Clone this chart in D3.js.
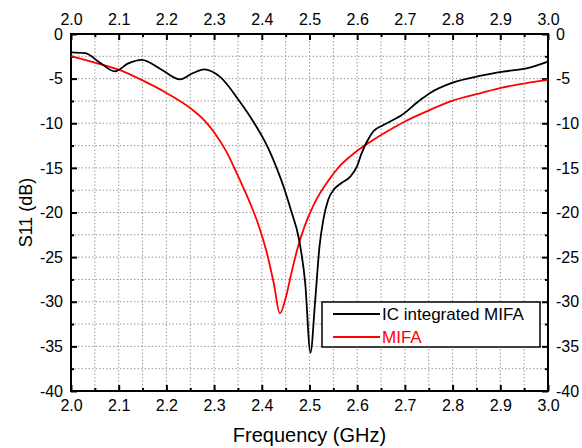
<!DOCTYPE html>
<html>
<head>
<meta charset="utf-8">
<script src="https://cdn.jsdelivr.net/npm/d3@7"></script>
<style>
  body { margin: 0; background: #fff; }
  text { font-family: "Liberation Sans", Arial, sans-serif; }
</style>
</head>
<body>
<svg id="chart" width="582" height="448"></svg>
<script>
  var width = 582, height = 448
  // plot box (window.top is read only, so no "top" here)
  var plotL = 71, plotR = 548, plotT = 34, plotB = 391

  // IC integrated MIFA
  var freqIC = [2.0, 2.03, 2.06, 2.092, 2.12, 2.148, 2.19, 2.228, 2.255, 2.279, 2.312, 2.354, 2.382, 2.403, 2.417, 2.431, 2.445, 2.462, 2.478, 2.491, 2.502, 2.512, 2.521, 2.529, 2.539, 2.553, 2.567, 2.585, 2.599, 2.609, 2.62, 2.634, 2.655, 2.676, 2.69, 2.732, 2.753, 2.80, 2.857, 2.906, 2.955, 3.0]
  var s11IC = [-2.05, -2.15, -3.2, -4.18, -3.3, -2.9, -4.0, -5.08, -4.4, -3.96, -4.78, -7.6, -9.8, -11.7, -13.2, -15.0, -17.0, -19.9, -23.0, -27.9, -35.7, -29.8, -23.8, -20.8, -18.6, -17.3, -16.7, -16.0, -14.9, -13.4, -12.1, -10.9, -10.2, -9.6, -9.2, -7.4, -6.6, -5.45, -4.7, -4.22, -3.85, -3.1]

  // MIFA
  var freqMIFA = [2.0, 2.05, 2.1, 2.15, 2.2, 2.25, 2.28, 2.3, 2.325, 2.35, 2.375, 2.395, 2.41, 2.425, 2.438, 2.45, 2.462, 2.475, 2.49, 2.51, 2.54, 2.565, 2.595, 2.63, 2.665, 2.7, 2.753, 2.8, 2.857, 2.906, 2.95, 3.0]
  var s11MIFA = [-2.47, -3.2, -4.0, -5.2, -6.6, -8.3, -9.7, -11.0, -13.1, -15.9, -18.9, -21.7, -24.4, -27.9, -31.3, -29.6, -26.8, -24.0, -21.5, -19.0, -16.4, -14.7, -13.3, -12.0, -10.85, -9.8, -8.5, -7.47, -6.65, -5.98, -5.55, -5.15]

  var xTicks = [2.0, 2.1, 2.2, 2.3, 2.4, 2.5, 2.6, 2.7, 2.8, 2.9, 3.0]
  var xMinor = [2.05, 2.15, 2.25, 2.35, 2.45, 2.55, 2.65, 2.75, 2.85, 2.95]
  var yTicks = [0, -5, -10, -15, -20, -25, -30, -35, -40]
  var yMinor = [-2.5, -7.5, -12.5, -17.5, -22.5, -27.5, -32.5, -37.5]

  var seriesNames = ["IC integrated MIFA", "MIFA"]
  var seriesColors = ["#000000", "#ff0000"]

  var svg = d3.select("#chart")

  var x = d3.scaleLinear().domain([2, 3]).range([plotL, plotR])
  var y = d3.scaleLinear().domain([-40, 0]).range([plotB, plotT])

  // dotted grid
  var grid = svg.append("g")
  grid.selectAll(".gx")
    .data(xTicks.concat(xMinor).filter(function(d) { return d > 2 && d < 3 }))
    .enter().append("line")
    .attr("x1", function(d) { return x(d) })
    .attr("x2", function(d) { return x(d) })
    .attr("y1", plotT).attr("y2", plotB)
    .attr("stroke", "#9a9a9a").attr("stroke-width", 1)
    .attr("stroke-dasharray", "1.5,2")
  grid.selectAll(".gy")
    .data(yTicks.concat(yMinor).filter(function(d) { return d > -40 && d < 0 }))
    .enter().append("line")
    .attr("y1", function(d) { return y(d) })
    .attr("y2", function(d) { return y(d) })
    .attr("x1", plotL).attr("x2", plotR)
    .attr("stroke", "#9a9a9a").attr("stroke-width", 1)
    .attr("stroke-dasharray", "1.5,2")

  function fmtX(d) { return d.toFixed(1) }
  // plain hyphen, not the unicode minus d3.format gives
  function fmtY(d) { return String(d) }

  function drawAxis(axis, tx, ty) {
    var g = svg.append("g")
      .attr("transform", "translate(" + tx + "," + ty + ")")
      .call(axis)
    g.select(".domain").remove()
    g.selectAll(".tick line").attr("stroke", "#000").attr("stroke-width", 2)
    g.selectAll(".tick text")
      .attr("fill", "#000")
      .style("font-size", "16px")
      .style("font-family", "Liberation Sans, Arial, sans-serif")
    return g
  }

  drawAxis(d3.axisBottom(x).tickValues(xTicks).tickFormat(fmtX).tickSizeInner(-6).tickSizeOuter(0).tickPadding(9), 0, plotB)
  drawAxis(d3.axisBottom(x).tickValues(xMinor).tickFormat("").tickSizeInner(-3).tickSizeOuter(0), 0, plotB)
  drawAxis(d3.axisTop(x).tickValues(xTicks).tickFormat(fmtX).tickSizeInner(-6).tickSizeOuter(0).tickPadding(9), 0, plotT)
  drawAxis(d3.axisTop(x).tickValues(xMinor).tickFormat("").tickSizeInner(-3).tickSizeOuter(0), 0, plotT)
  drawAxis(d3.axisLeft(y).tickValues(yTicks).tickFormat(fmtY).tickSizeInner(-6).tickSizeOuter(0).tickPadding(8), plotL, 0)
  drawAxis(d3.axisLeft(y).tickValues(yMinor).tickFormat("").tickSizeInner(-3).tickSizeOuter(0), plotL, 0)
  drawAxis(d3.axisRight(y).tickValues(yTicks).tickFormat(fmtY).tickSizeInner(-6).tickSizeOuter(0).tickPadding(8), plotR, 0)
  drawAxis(d3.axisRight(y).tickValues(yMinor).tickFormat("").tickSizeInner(-3).tickSizeOuter(0), plotR, 0)

  // frame
  svg.append("rect")
    .attr("x", plotL).attr("y", plotT)
    .attr("width", plotR - plotL).attr("height", plotB - plotT)
    .attr("fill", "none").attr("stroke", "#000").attr("stroke-width", 2)

  var line = d3.line()
    .x(function(d) { return x(d[0]) })
    .y(function(d) { return y(d[1]) })
    .curve(d3.curveMonotoneX)

  svg.append("path")
    .datum(d3.zip(freqMIFA, s11MIFA))
    .attr("d", line)
    .attr("fill", "none").attr("stroke", seriesColors[1]).attr("stroke-width", 1.8)

  svg.append("path")
    .datum(d3.zip(freqIC, s11IC))
    .attr("d", line)
    .attr("fill", "none").attr("stroke", seriesColors[0]).attr("stroke-width", 1.8)

  // legend
  var leg = svg.append("g")
  leg.append("rect")
    .attr("x", 322).attr("y", 302).attr("width", 218).attr("height", 45)
    .attr("fill", "#fff").attr("stroke", "#000").attr("stroke-width", 1.5)
  seriesNames.forEach(function(name, i) {
    var ly = 314 + i * 23
    leg.append("line")
      .attr("x1", 333).attr("x2", 380).attr("y1", ly).attr("y2", ly)
      .attr("stroke", seriesColors[i]).attr("stroke-width", 1.8)
    leg.append("text")
      .attr("x", 382).attr("y", ly + 6)
      .attr("fill", seriesColors[i])
      .style("font-size", "17px")
      .text(name)
  })

  // axis titles
  svg.append("text")
    .attr("x", (plotL + plotR) / 2).attr("y", 442)
    .attr("text-anchor", "middle")
    .style("font-size", "20px")
    .text("Frequency (GHz)")
  svg.append("text")
    .attr("transform", "translate(32," + ((plotT + plotB) / 2) + ") rotate(-90)")
    .attr("text-anchor", "middle")
    .style("font-size", "18px")
    .text("S11 (dB)")
</script>
</body>
</html>
